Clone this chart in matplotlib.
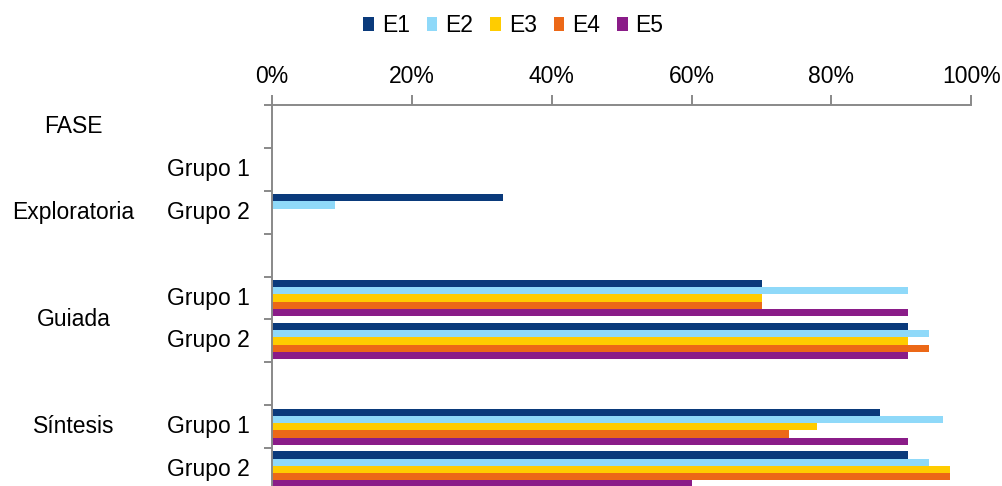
import numpy as np
import matplotlib
matplotlib.use("Agg")
import matplotlib.pyplot as plt
from matplotlib.patches import Patch
import matplotlib.transforms as mtransforms

plt.rcParams['font.family'] = ['Liberation Sans', 'DejaVu Sans']

# Rows of the chart, top to bottom (blank rows separate the phases)
rows = ["", "Grupo 1", "Grupo 2", "", "Grupo 1", "Grupo 2", "", "Grupo 1", "Grupo 2"]
# Phase labels and the rows each one spans
phases = ["FASE", "Exploratoria", "Guiada", "Síntesis"]
phase_rows = [[0], [1, 2, 3], [4, 5], [6, 7, 8]]

series = ["E1", "E2", "E3", "E4", "E5"]
nan = np.nan
E1 = [nan, 0, 33, nan, 70, 91, nan, 87, 91]
E2 = [nan, 0, 9, nan, 91, 94, nan, 96, 94]
E3 = [nan, 0, 0, nan, 70, 91, nan, 78, 97]
E4 = [nan, 0, 0, nan, 70, 94, nan, 74, 97]
E5 = [nan, 0, 0, nan, 91, 91, nan, 91, 60]
values = [E1, E2, E3, E4, E5]

colors = ["#0A3A7B", "#8FD9F9", "#FFCC00", "#EC6817", "#8A1C88"]
grey = "#898989"

W, H = 1003, 486
fig = plt.figure(figsize=(W / 100, H / 100), dpi=100)
left_px, right_px, top_px, bottom_px = 271.5, 971.5, 105, 491
ax = fig.add_axes([left_px / W, (H - bottom_px) / H,
                   (right_px - left_px) / W, (bottom_px - top_px) / H])

n_rows = len(rows)
y = np.arange(n_rows)
bar_h = 0.169
for i, (name, vals, c) in enumerate(zip(series, values, colors)):
    ax.barh(y + (i - 2) * bar_h, vals, height=bar_h, color=c, label=name,
            edgecolor='none')

ax.set_xlim(0, 100)
ax.set_ylim(n_rows - 0.5, -0.5)
ax.xaxis.tick_top()
ax.set_xticks(np.arange(0, 101, 20))
ax.set_xticklabels([f"{v}%" for v in range(0, 101, 20)])
ax.set_yticks(np.arange(-0.5, n_rows, 1.0))
ax.set_yticklabels([])
ax.tick_params(axis='x', length=7, width=1.4, color=grey, pad=5,
               labelsize=16.5, labelcolor='black')
ax.tick_params(axis='y', length=6, width=1.4, color=grey)
for s in ['right', 'bottom']:
    ax.spines[s].set_visible(False)
for s in ['left', 'top']:
    ax.spines[s].set_color(grey)
    ax.spines[s].set_linewidth(1.4)

# Category labels: groups next to the axis, phases further left
trans_grp = mtransforms.blended_transform_factory(
    mtransforms.offset_copy(ax.transAxes, fig=fig, x=-22 / 100 * 72, units='points'),
    ax.transData)
for yi, lab in enumerate(rows):
    if lab:
        ax.text(0, yi, lab, transform=trans_grp, ha='right', va='center',
                fontsize=16.5, color='black')

trans_ph = mtransforms.blended_transform_factory(fig.transFigure, ax.transData)
for name, rr in zip(phases, phase_rows):
    ax.text(73.5 / W, np.mean(rr), name, transform=trans_ph, ha='center',
            va='center', fontsize=16.5, color='black')

handles = [Patch(facecolor=c, edgecolor='none', label=n) for n, c in zip(series, colors)]
fig.legend(handles=handles, loc='center', bbox_to_anchor=(513.5 / W, (H - 26) / H),
           ncol=5, frameon=False, fontsize=16.5, handlelength=0.45,
           handleheight=0.55, handletextpad=0.35, columnspacing=0.75,
           borderpad=0, borderaxespad=0)

fig.savefig("out.png", dpi=100)
